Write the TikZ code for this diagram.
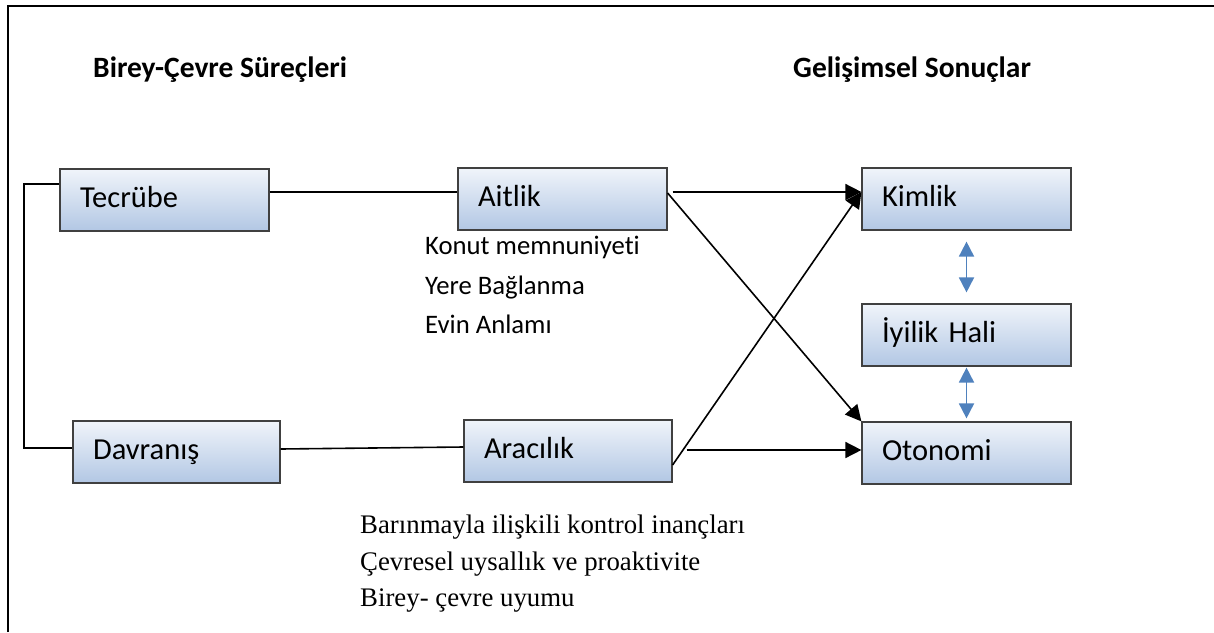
\documentclass[tikz,border=0pt]{standalone}
\usepackage{fontspec}
\setmainfont{Carlito}[Ligatures=NoCommon]
\newfontfamily\timesfont{Liberation Serif}
\usetikzlibrary{arrows.meta}
\definecolor{kutuust}{RGB}{240,244,250}
\definecolor{kutualt}{RGB}{178,199,228}
\definecolor{kutucizgi}{RGB}{64,64,64}
\definecolor{okmavi}{RGB}{79,129,189}
\tikzset{
  kutu/.style={draw=kutucizgi, line width=1.2pt, top color=kutuust, bottom color=kutualt,
    minimum width=209pt, minimum height=62pt, text width=169pt, inner xsep=20pt, inner ysep=0pt,
    align=left, text height=19pt, text depth=5pt, font=\fontsize{30.5}{34}\selectfont},
  ok/.style={-{Triangle[length=16pt,width=16pt]}, line width=1.6pt},
  cizgi/.style={line width=1.6pt},
  cift/.style={{Triangle[length=15pt,width=15pt]}-{Triangle[length=15pt,width=15pt]}, okmavi, line width=1.8pt},
  yazi/.style={anchor=base west, inner sep=0pt, font=\fontsize{26.7}{30}\selectfont}
}
\begin{document}
\begin{tikzpicture}[x=1pt,y=-1pt]
    \useasboundingbox (0,0) rectangle (1214,632);
    \draw[line width=2pt] (8,632) -- (8,6) -- (1214,6);

    \node[yazi, font=\fontsize{29.5}{33}\selectfont\bfseries] (B1) at (93,77) {Birey-Çevre Süreçleri};
    \node[yazi, font=\fontsize{29.5}{33}\selectfont\bfseries] (B2) at (793,77) {Gelişimsel Sonuçlar};

    \node[kutu] (T) at (164.5,200) {Tecrübe};
    \node[kutu, minimum width=207pt, text width=167pt] (D) at (176.5,452) {Davranış};
    \node[kutu] (A) at (562.5,199) {Aitlik};
    \node[kutu, minimum width=208pt, text width=168pt] (R) at (568,451) {Aracılık};
    \node[kutu] (K) at (966.5,199) {Kimlik};
    \node[kutu] (I) at (966.5,335) {İyilik Hali};
    \node[kutu] (O) at (966.5,453) {Otonomi};

    \node[yazi] (A1) at (425,254) {Konut memnuniyeti};
    \node[yazi] (A2) at (425,294) {Yere Bağlanma};
    \node[yazi] (A3) at (425,333) {Evin Anlamı};

    \node[yazi, font=\fontsize{26.8}{30}\selectfont\timesfont] (R1) at (360,533) {Barınmayla ilişkili kontrol inançları};
    \node[yazi, font=\fontsize{26.8}{30}\selectfont\timesfont] (R2) at (360,570) {Çevresel uysallık ve proaktivite};
    \node[yazi, font=\fontsize{26.8}{30}\selectfont\timesfont] (R3) at (360,606) {Birey- çevre uyumu};

    \coordinate (L) at (24,448);
    \draw[cizgi] ([yshift=16pt]T.west) -| (L) -- (D.west |- L);
    \draw[cizgi] ([yshift=8pt]T.east) -- ([yshift=7pt]A.west);
    \draw[cizgi] ([yshift=3pt]D.east) -- ([yshift=4pt]R.west);

    \draw[ok] ([xshift=5pt,yshift=7pt]A.east) -- ([yshift=7pt]K.west);
    \draw[ok] ([yshift=6pt]A.east) -- (O.north west);
    \draw[ok] ([yshift=-14pt]R.east) -- ([yshift=7pt]K.west);
    \draw[ok] ([xshift=14pt,yshift=1pt]R.east) -- ([yshift=3pt]O.west);

    \draw[cift, shorten <=11pt, shorten >=11pt] (K.south) -- (I.north);
    \draw[cift, shorten <=1pt, shorten >=3pt] (I.south) -- (O.north);
\end{tikzpicture}
\end{document}
